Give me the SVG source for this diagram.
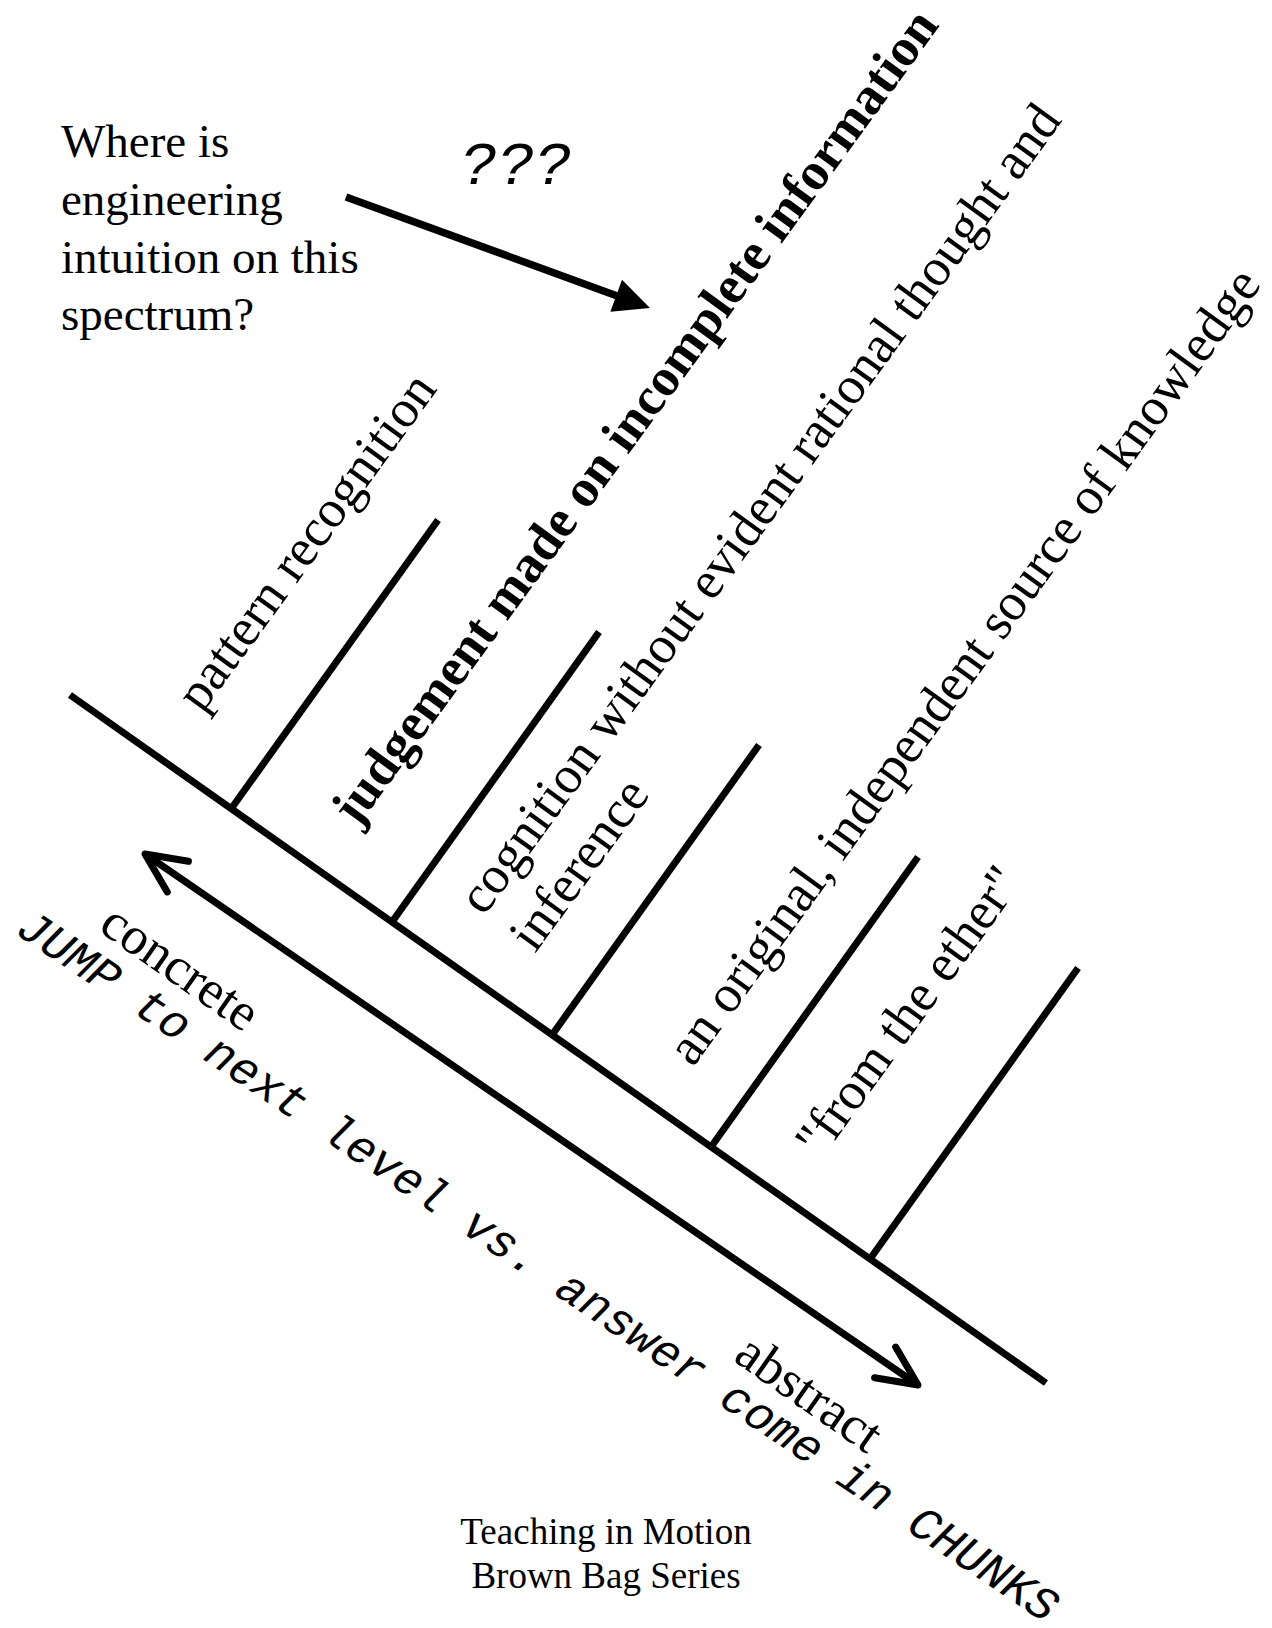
<svg xmlns="http://www.w3.org/2000/svg" width="1272" height="1628" viewBox="0 0 1272 1628">
  <style>
    .ln { stroke: #000; stroke-width: 7; fill: none; }
    .chev { stroke: #000; stroke-width: 7; fill: none; stroke-linecap: round; stroke-linejoin: round; }
    .serif { font-family: "Liberation Serif", "Times New Roman", serif; fill: #000; }
    .mono { font-family: "Liberation Mono", "Courier New", monospace; fill: #000; font-style: italic; }
    .lab { font-size: 53px; }
  </style>
  <rect width="1272" height="1628" fill="#fff"/>

  <g id="question">
    <text class="serif" font-size="47" x="61" y="157">Where is</text>
    <text class="serif" font-size="47" x="61" y="215">engineering</text>
    <text class="serif" font-size="47" x="61" y="273">intuition on this</text>
    <text class="serif" font-size="47" x="61" y="330">spectrum?</text>
  </g>
  <g id="qmarks">
    <text class="mono" font-size="62" x="460" y="184">???</text>
  </g>

  <g id="spectrum">
    <line class="ln" x1="70" y1="695" x2="1046" y2="1383"/>
    <line class="ln" x1="231" y1="809" x2="438" y2="520"/>
    <line class="ln" x1="392" y1="922" x2="599" y2="632"/>
    <line class="ln" x1="552" y1="1035" x2="759" y2="745"/>
    <line class="ln" x1="711" y1="1147" x2="918" y2="857"/>
    <line class="ln" x1="870" y1="1259" x2="1078" y2="968"/>
  </g>

  <g id="label-pattern">
    <text class="serif lab" transform="translate(202,714) rotate(-54)">pattern recognition</text>
  </g>
  <g id="label-judgement">
    <text class="serif lab" font-weight="bold" font-size="52.5" transform="translate(357,828) rotate(-54)">judgement made on incomplete information</text>
  </g>
  <g id="label-cognition">
    <text class="serif lab" transform="translate(484,917) rotate(-54)"><tspan x="0" y="0">cognition without evident rational thought and</tspan><tspan x="0" y="63">inference</tspan></text>
  </g>
  <g id="label-original">
    <text class="serif lab" transform="translate(693,1068) rotate(-54)">an original, independent source of knowledge</text>
  </g>
  <g id="label-ether">
    <text class="serif lab" transform="translate(821,1160) rotate(-54)">"from the ether"</text>
  </g>

  <g id="label-concrete">
    <text class="serif lab" transform="translate(97,930) rotate(35)">concrete</text>
  </g>
  <g id="label-abstract">
    <text class="serif lab" transform="translate(732,1360) rotate(35)">abstract</text>
  </g>
  <g id="label-jump">
    <text class="mono" font-size="47" transform="translate(14,933) rotate(33.8)">JUMP to next level vs. answer come in CHUNKS</text>
  </g>

  <g id="footer">
    <text class="serif" font-size="37" x="606" y="1544" text-anchor="middle">Teaching in Motion</text>
    <text class="serif" font-size="37" x="606" y="1588" text-anchor="middle">Brown Bag Series</text>
  </g>

  <g id="connectors">
    <line x1="346" y1="197" x2="620" y2="297" stroke="#000" stroke-width="7.5"/>
    <polygon points="650,308 622,279.7 610.4,311.7" fill="#000"/>
    <line class="ln" x1="145" y1="854" x2="918" y2="1385"/>
    <polyline class="chev" points="188.4,861.3 145,854 167.3,891.9"/>
    <polyline class="chev" points="874.6,1377.7 918,1385 895.7,1347.1"/>
  </g>
</svg>
